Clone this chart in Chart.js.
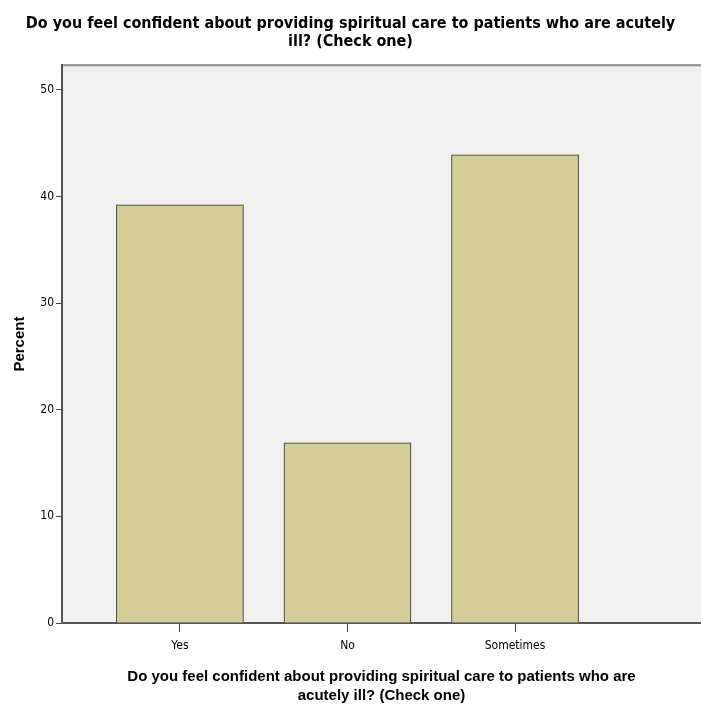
<!DOCTYPE html>
<html>
<head>
<meta charset="utf-8">
<script src="https://cdn.jsdelivr.net/npm/chart.js@4"></script>
<style>
  body { margin: 0; background: #fff; }
  #wrap { width: 701px; height: 713px; }
</style>
</head>
<body>
<div id="wrap"><canvas id="myChart"></canvas></div>
<script>
// categories and percentages
const categories = ['Yes', 'No', 'Sometimes'];
const percents = [39.2, 16.9, 43.9];
const yTicks = [0, 10, 20, 30, 40, 50];

const titleLines = ['Do you feel confident about providing spiritual care to patients who are acutely', 'ill? (Check one)'];
const xTitleLines = ['Do you feel confident about providing spiritual care to patients who are', 'acutely ill? (Check one)'];

const narrow = "'Liberation Sans Narrow', 'DejaVu Sans Condensed', 'Liberation Sans', sans-serif";

// grey plot background + top border line
const plotBg = {
  id: 'plotBg',
  beforeDraw(chart) {
    const { ctx, chartArea: a } = chart;
    ctx.save();
    ctx.fillStyle = '#f0f0f0';
    ctx.fillRect(a.left, a.top, a.right - a.left, a.bottom - a.top);
    ctx.strokeStyle = '#888';
    ctx.lineWidth = 2;
    ctx.beginPath();
    ctx.moveTo(a.left, a.top);
    ctx.lineTo(a.right, a.top);
    ctx.stroke();
    ctx.restore();
  }
};

const ctx = document.getElementById('myChart').getContext('2d');
const myChart = new Chart(ctx, {
  type: 'bar',
  data: {
    datasets: [{
      data: percents.map((v, i) => ({ x: i, y: v })),
      backgroundColor: '#d3ce98',
      borderColor: '#2a2a2a',
      borderWidth: 1,
      barThickness: 127
    }]
  },
  options: {
    responsive: true,
    maintainAspectRatio: false,
    animation: false,
    layout: { padding: 0 },
    plugins: {
      legend: { display: false },
      tooltip: { enabled: false },
      title: {
        display: true,
        text: titleLines,
        color: '#000',
        font: { family: narrow, size: 16, weight: 'bold', lineHeight: 1.1 },
        padding: { top: 15, bottom: 15 }
      }
    },
    scales: {
      x: {
        type: 'linear',
        offset: false,
        min: -0.704,
        max: 3.11,
        afterBuildTicks: (s) => { s.ticks = categories.map((c, i) => ({ value: i })); },
        afterFit: (s) => { s.height = 90; },
        ticks: {
          callback: (v) => categories[v],
          color: '#000',
          font: { family: narrow, size: 12 },
          padding: 7
        },
        grid: { offset: false, drawOnChartArea: false, drawTicks: true, tickLength: 9, tickColor: '#444' },
        border: { display: true, color: '#555', width: 2 },
        title: {
          display: true,
          text: xTitleLines,
          color: '#000',
          font: { family: 'Liberation Sans', size: 15, weight: 'bold', lineHeight: 1.25 },
          padding: { top: 12, bottom: 8 }
        }
      },
      y: {
        min: 0,
        max: 52.3,
        afterBuildTicks: (s) => { s.ticks = yTicks.map(v => ({ value: v })); },
        afterFit: (s) => { s.width = 62; },
        ticks: {
          color: '#000',
          font: { family: narrow, size: 12 },
          padding: 2
        },
        grid: { drawOnChartArea: false, drawTicks: true, tickLength: 6, tickColor: '#444' },
        border: { display: true, color: '#555', width: 2 },
        title: {
          display: true,
          text: 'Percent',
          color: '#000',
          font: { family: 'Liberation Sans', size: 15, weight: 'bold' },
          padding: { top: 11, bottom: 6 }
        }
      }
    }
  },
  plugins: [plotBg]
});
</script>
</body>
</html>
